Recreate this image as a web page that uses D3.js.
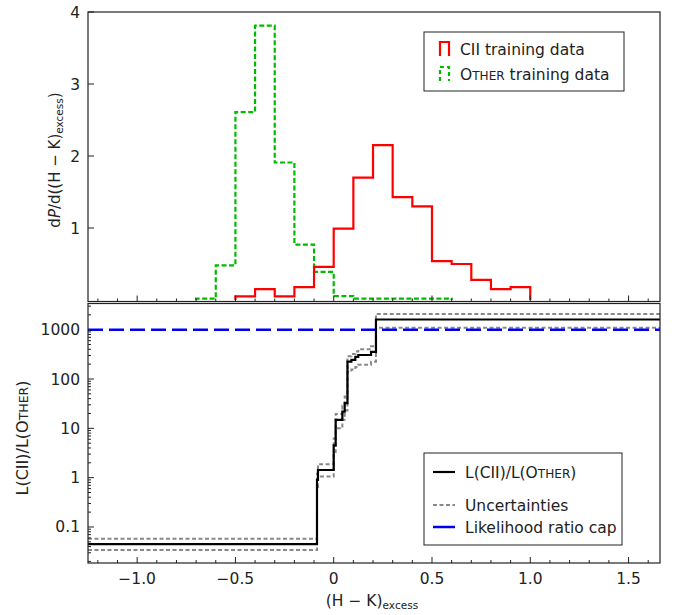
<!DOCTYPE html>
<html><head><meta charset="utf-8">
<script src="https://cdn.jsdelivr.net/npm/d3@7"></script>
<style>body{margin:0;background:#fff}svg{font-family:"DejaVu Sans",sans-serif}</style>
</head><body><svg id="c" width="675" height="615"></svg>
<script>
// ---- data ----
const binEdgesCII = [-0.5,-0.4,-0.3,-0.2,-0.1,0.0,0.1,0.2,0.3,0.4,0.5,0.6,0.7,0.8,0.9,1.0];
const densCII = [0.05,0.15,0.05,0.18,0.46,0.99,1.70,2.15,1.43,1.30,0.54,0.50,0.28,0.15,0.18];
const binEdgesOther = [-0.7,-0.6,-0.5,-0.4,-0.3,-0.2,-0.1,0.0,0.1,0.2,0.3,0.4,0.5,0.6];
const densOther = [0.02,0.48,2.61,3.81,1.91,0.77,0.39,0.055,0.02,0.02,0.02,0.02,0.02];

const ratioBreaks = [-1.25,-0.085,-0.08,0.0,0.01,0.044,0.056,0.07,0.09,0.11,0.125,0.19,0.215,1.66];
const ratioVals  = [0.045,0.9,1.43,4.5,14.8,21.8,32.3,225,245,282,307,355,1610];
const upperVals  = [0.058,1.2,1.87,6.2,19.5,29,44,290,320,360,400,460,2090];
const lowerVals  = [0.034,0.65,1.05,3.3,10,15,23,140,155,175,195,225,1100];
const ratioCap = 1000;

const xTicks = [-1.0,-0.5,0,0.5,1.0,1.5];
const xTickLabels = ["\u22121.0","\u22120.5","0","0.5","1.0","1.5"];
const topYTicks = [1,2,3,4];
const botYTicks = [0.1,1,10,100,1000];
const botYTickLabels = ["0.1","1","10","100","1000"];

// ---- layout ----
const svg = d3.select("#c");
const L = 88, R = 660;
const topT = 12, topB = 300, topFrameB = 301.5;
const botT = 303.5, botB = 563;
const x = d3.scaleLinear().domain([-1.25,1.66]).range([L,R]);
const yTop = d3.scaleLinear().domain([0,4]).range([topB,topT]);
const yBot = d3.scaleLog().domain([0.0186,3396]).range([botB,botT]);
const FS = 15.5;

const defs = svg.append("defs");
defs.append("clipPath").attr("id","cb").append("rect").attr("x",L).attr("y",botT).attr("width",R-L).attr("height",botB-botT);
defs.append("clipPath").attr("id","ct").append("rect").attr("x",L).attr("y",topT).attr("width",R-L).attr("height",topFrameB-topT);

function histPts(edges, vals){
  const p = [[edges[0],0]];
  vals.forEach((v,i)=>p.push([edges[i],v]));
  p.push([edges[edges.length-1],vals[vals.length-1]]);
  p.push([edges[edges.length-1],0]);
  return p;
}
function stepPath(pts, ys){
  let d = "";
  pts.forEach((p,i)=>{
    const X = x(p[0]), Y = ys(p[1]);
    if(i===0){ d += `M${X},${Y}`; }
    else {
      const Yp = ys(pts[i-1][1]);
      d += `L${X},${Yp}L${X},${Y}`;
    }
  });
  return d;
}

const gT = svg.append("g").attr("clip-path","url(#ct)");
gT.append("path").attr("d",stepPath(histPts(binEdgesOther,densOther),yTop))
  .attr("fill","none").attr("stroke","#00bb00").attr("stroke-width",2.2).attr("stroke-dasharray","5,2.5");
gT.append("path").attr("d",stepPath(histPts(binEdgesCII,densCII),yTop))
  .attr("fill","none").attr("stroke","#ff0000").attr("stroke-width",2.2);

function ratioPts(vals){
  const p = vals.map((v,i)=>[ratioBreaks[i],v]);
  p.push([ratioBreaks[ratioBreaks.length-1],vals[vals.length-1]]);
  return p;
}
const gB = svg.append("g").attr("clip-path","url(#cb)");
gB.append("path").attr("d",stepPath(ratioPts(upperVals),yBot))
  .attr("fill","none").attr("stroke","#888").attr("stroke-width",2).attr("stroke-dasharray","4,2.5");
gB.append("path").attr("d",stepPath(ratioPts(lowerVals),yBot))
  .attr("fill","none").attr("stroke","#888").attr("stroke-width",2).attr("stroke-dasharray","4,2.5");
gB.append("line").attr("x1",L).attr("x2",R).attr("y1",yBot(ratioCap)).attr("y2",yBot(ratioCap))
  .attr("stroke","#0000ee").attr("stroke-width",2.5).attr("stroke-dasharray","15,6");
gB.append("path").attr("d",stepPath(ratioPts(ratioVals),yBot))
  .attr("fill","none").attr("stroke","#000").attr("stroke-width",2.2);

svg.append("rect").attr("x",L).attr("y",topT).attr("width",R-L).attr("height",topFrameB-topT)
  .attr("fill","none").attr("stroke","#222").attr("stroke-width",1.2);
svg.append("rect").attr("x",L).attr("y",botT).attr("width",R-L).attr("height",botB-botT)
  .attr("fill","none").attr("stroke","#222").attr("stroke-width",1.2);

const minorX = d3.range(-12,17).map(i=>i/10);
[topFrameB,botB].forEach(yb=>{
  minorX.forEach(v=>{
    const major = Math.abs(v*2-Math.round(v*2))<1e-9;
    svg.append("line").attr("x1",x(v)).attr("x2",x(v)).attr("y1",yb).attr("y2",yb-(major?6:3))
      .attr("stroke","#222").attr("stroke-width",1);
  });
});
xTicks.forEach((v,i)=>{
  svg.append("text").attr("x",x(v)).attr("y",botB+21).attr("text-anchor","middle")
    .attr("font-size",FS).attr("fill","#222").text(xTickLabels[i]);
});
topYTicks.forEach(v=>{
  svg.append("line").attr("x1",L).attr("x2",L+6).attr("y1",yTop(v)).attr("y2",yTop(v)).attr("stroke","#222");
  svg.append("text").attr("x",L-8).attr("y",yTop(v)+5.5).attr("text-anchor","end")
    .attr("font-size",FS).attr("fill","#222").text(v);
});
for(let e=-2;e<=3;e++){
  for(let m=1;m<=9;m++){
    const v = m*Math.pow(10,e);
    if(v<yBot.domain()[0]||v>yBot.domain()[1]) continue;
    svg.append("line").attr("x1",L).attr("x2",L+(m===1?6:3)).attr("y1",yBot(v)).attr("y2",yBot(v))
      .attr("stroke","#222").attr("stroke-width",1);
  }
}
botYTicks.forEach((v,i)=>{
  svg.append("text").attr("x",L-8).attr("y",yBot(v)+5.5).attr("text-anchor","end")
    .attr("font-size",FS).attr("fill","#222").text(botYTickLabels[i]);
});

const yl1 = svg.append("text").attr("transform","translate(60,160) rotate(-90)").attr("text-anchor","middle")
  .attr("font-size",15).attr("fill","#222");
yl1.append("tspan").text("d");
yl1.append("tspan").attr("font-style","italic").text("P");
yl1.append("tspan").text("/d((H \u2212 K)");
yl1.append("tspan").attr("font-size",10.5).attr("dy",3).text("excess");
yl1.append("tspan").attr("dy",-3).text(")");

const yl2 = svg.append("text").attr("transform","translate(28,438) rotate(-90)").attr("text-anchor","middle")
  .attr("font-size",16).attr("fill","#222");
yl2.append("tspan").text("L(CII)/L(O");
yl2.append("tspan").attr("font-size",12.5).text("THER");
yl2.append("tspan").text(")");

const xl = svg.append("text").attr("x",372).attr("y",606).attr("text-anchor","middle")
  .attr("font-size",FS).attr("fill","#222");
xl.append("tspan").text("(H \u2212 K)");
xl.append("tspan").attr("font-size",FS*0.68).attr("dy",3).text("excess");

svg.append("rect").attr("x",424).attr("y",32).attr("width",200).attr("height",59)
  .attr("fill","#fff").attr("stroke","#222").attr("stroke-width",1);
function stepIcon(x0,y0,color,dash){
  const p = svg.append("path").attr("d",`M${x0},${y0+14}L${x0},${y0}L${x0+9},${y0}L${x0+9},${y0+14}`)
    .attr("fill","none").attr("stroke",color).attr("stroke-width",2.2);
  if(dash) p.attr("stroke-dasharray",dash);
}
stepIcon(440,42,"#ff0000",null);
stepIcon(440,67,"#00bb00","4,3");
svg.append("text").attr("x",460).attr("y",55).attr("font-size",FS).attr("fill","#222").text("CII training data");
const t2 = svg.append("text").attr("x",460).attr("y",80).attr("font-size",FS).attr("fill","#222");
t2.append("tspan").text("O");
t2.append("tspan").attr("font-size",FS*0.78).text("THER");
t2.append("tspan").text(" training data");

svg.append("rect").attr("x",424).attr("y",453).attr("width",198).attr("height",92)
  .attr("fill","#fff").attr("stroke","#222").attr("stroke-width",1);
const rows = [
  {y:472, stroke:"#000", dash:null, w:2.2},
  {y:505, stroke:"#888", dash:"4,2.5", w:2},
  {y:527, stroke:"#0000ee", dash:null, w:2.5}
];
rows.forEach(r=>{
  const l = svg.append("line").attr("x1",433).attr("x2",455).attr("y1",r.y).attr("y2",r.y)
    .attr("stroke",r.stroke).attr("stroke-width",r.w);
  if(r.dash) l.attr("stroke-dasharray",r.dash);
});
const lt1 = svg.append("text").attr("x",465).attr("y",472+5.5).attr("font-size",FS).attr("fill","#222");
lt1.append("tspan").text("L(CII)/L(O");
lt1.append("tspan").attr("font-size",FS*0.78).text("THER");
lt1.append("tspan").text(")");
svg.append("text").attr("x",465).attr("y",505+5.5).attr("font-size",FS).attr("fill","#222").text("Uncertainties");
svg.append("text").attr("x",465).attr("y",527+5.5).attr("font-size",FS).attr("fill","#222").text("Likelihood ratio cap");
</script></body></html>
